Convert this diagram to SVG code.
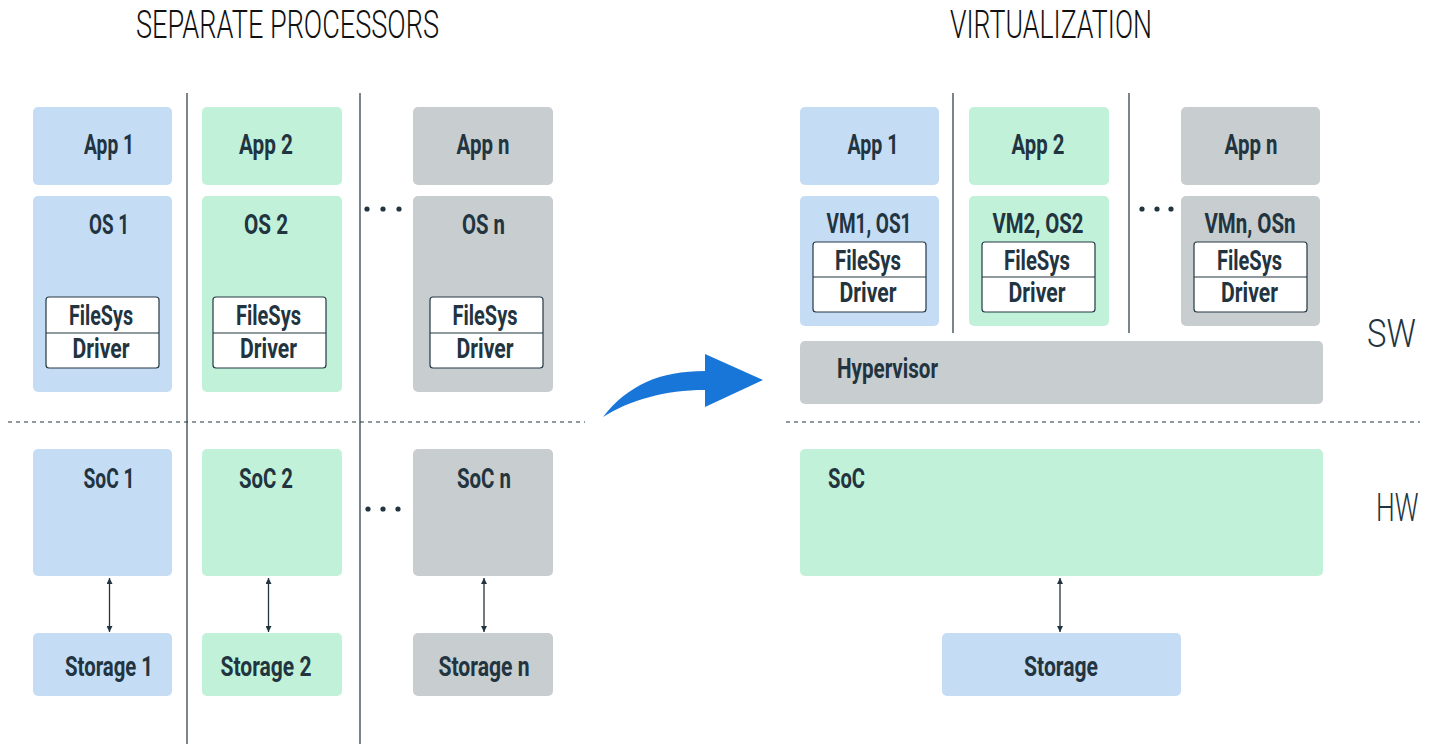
<svg xmlns="http://www.w3.org/2000/svg" width="1432" height="744" viewBox="0 0 1432 744">
<style>
.blue{fill:#c5dcf5}
.green{fill:#c1f1d9}
.gray{fill:#c8cdd0}
.sub{fill:#ffffff;stroke:#243845;stroke-width:1.2}
.lbl{font-family:Roboto,"Liberation Sans",sans-serif;font-weight:700;font-size:27px;fill:#22343f;text-anchor:middle}
.lbll{font-family:Roboto,"Liberation Sans",sans-serif;font-weight:700;font-size:27px;fill:#22343f}
.title{font-family:Roboto,"Liberation Sans",sans-serif;font-weight:300;font-size:39px;fill:#111111}
.side{font-family:Roboto,"Liberation Sans",sans-serif;font-weight:300;font-size:39px;fill:#22343f}
.sep{stroke:#22343f;stroke-width:1.2}
.dash{stroke:#22343f;stroke-width:1;stroke-dasharray:4 4}
.conn{stroke:#22343f;stroke-width:1.3;fill:none;marker-start:url(#ah);marker-end:url(#ah)}
.dot{fill:#22343f}
</style>
<defs>
<marker id="ah" viewBox="0 0 10 10" refX="10" refY="5" markerWidth="6" markerHeight="6" orient="auto-start-reverse" markerUnits="userSpaceOnUse">
<path d="M0,0 L10,5 L0,10 Z" fill="#22343f"/>
</marker>
</defs>

<text class="title" x="136" y="38" textLength="303" lengthAdjust="spacingAndGlyphs">SEPARATE PROCESSORS</text>
<text class="title" x="950" y="38" textLength="202" lengthAdjust="spacingAndGlyphs">VIRTUALIZATION</text>
<text class="side" transform="translate(1367,347) scale(0.84,1)">SW</text>
<text class="side" transform="translate(1376,521) scale(0.68,1)">HW</text>

<g id="separators">
<line class="sep" x1="187" y1="93" x2="187" y2="744"/>
<line class="sep" x1="360" y1="93" x2="360" y2="744"/>
<line class="sep" x1="953" y1="93" x2="953" y2="333"/>
<line class="sep" x1="1129" y1="93" x2="1129" y2="333"/>
<line class="dash" x1="8" y1="422" x2="585" y2="422"/>
<line class="dash" x1="786" y1="422" x2="1420" y2="422"/>
</g>

<g id="dots">
<circle class="dot" cx="367" cy="209" r="2.6"/><circle class="dot" cx="383" cy="209" r="2.6"/><circle class="dot" cx="399" cy="209" r="2.6"/>
<circle class="dot" cx="368" cy="509" r="2.6"/><circle class="dot" cx="383" cy="509" r="2.6"/><circle class="dot" cx="398" cy="509" r="2.6"/>
<circle class="dot" cx="1142" cy="209" r="2.6"/><circle class="dot" cx="1157" cy="209" r="2.6"/><circle class="dot" cx="1171" cy="209" r="2.6"/>
</g>

<!-- Left: separate processors -->
<g id="app1"><rect class="blue" x="33" y="107" width="139" height="78" rx="5"/><text class="lbl" x="109" y="154" textLength="50" lengthAdjust="spacingAndGlyphs">App 1</text></g>
<g id="app2"><rect class="green" x="202" y="107" width="140" height="78" rx="5"/><text class="lbl" x="266" y="154" textLength="54" lengthAdjust="spacingAndGlyphs">App 2</text></g>
<g id="appn"><rect class="gray" x="413" y="107" width="140" height="78" rx="5"/><text class="lbl" x="483" y="154" textLength="53" lengthAdjust="spacingAndGlyphs">App n</text></g>

<g id="os1"><rect class="blue" x="33" y="196" width="139" height="196" rx="5"/><text class="lbl" x="109" y="234" textLength="40" lengthAdjust="spacingAndGlyphs">OS 1</text>
<rect class="sub" x="46" y="297" width="113" height="71" rx="3"/><line class="sep" x1="46" y1="333" x2="159" y2="333"/>
<text class="lbl" x="101" y="325" textLength="64" lengthAdjust="spacingAndGlyphs">FileSys</text><text class="lbl" x="101" y="358" textLength="57" lengthAdjust="spacingAndGlyphs">Driver</text></g>
<g id="os2"><rect class="green" x="202" y="196" width="140" height="196" rx="5"/><text class="lbl" x="266" y="234" textLength="44" lengthAdjust="spacingAndGlyphs">OS 2</text>
<rect class="sub" x="213" y="297" width="113" height="71" rx="3"/><line class="sep" x1="213" y1="333" x2="326" y2="333"/>
<text class="lbl" x="268.5" y="325" textLength="65" lengthAdjust="spacingAndGlyphs">FileSys</text><text class="lbl" x="268.5" y="358" textLength="57" lengthAdjust="spacingAndGlyphs">Driver</text></g>
<g id="osn"><rect class="gray" x="413" y="196" width="140" height="196" rx="5"/><text class="lbl" x="483.5" y="234" textLength="43" lengthAdjust="spacingAndGlyphs">OS n</text>
<rect class="sub" x="430" y="297" width="113" height="71" rx="3"/><line class="sep" x1="430" y1="333" x2="543" y2="333"/>
<text class="lbl" x="485" y="325" textLength="65" lengthAdjust="spacingAndGlyphs">FileSys</text><text class="lbl" x="485" y="358" textLength="57" lengthAdjust="spacingAndGlyphs">Driver</text></g>

<g id="soc1"><rect class="blue" x="33" y="449" width="139" height="127" rx="5"/><text class="lbl" x="109" y="488" textLength="51" lengthAdjust="spacingAndGlyphs">SoC 1</text></g>
<g id="soc2"><rect class="green" x="202" y="449" width="140" height="127" rx="5"/><text class="lbl" x="266" y="488" textLength="54" lengthAdjust="spacingAndGlyphs">SoC 2</text></g>
<g id="socn"><rect class="gray" x="413" y="449" width="140" height="127" rx="5"/><text class="lbl" x="484" y="488" textLength="54" lengthAdjust="spacingAndGlyphs">SoC n</text></g>

<g id="storage1"><rect class="blue" x="33" y="633" width="139" height="63" rx="5"/><text class="lbl" x="109" y="676" textLength="88" lengthAdjust="spacingAndGlyphs">Storage 1</text></g>
<g id="storage2"><rect class="green" x="202" y="633" width="140" height="63" rx="5"/><text class="lbl" x="266" y="676" textLength="91" lengthAdjust="spacingAndGlyphs">Storage 2</text></g>
<g id="storagen"><rect class="gray" x="413" y="633" width="140" height="63" rx="5"/><text class="lbl" x="484" y="676" textLength="91" lengthAdjust="spacingAndGlyphs">Storage n</text></g>

<!-- Right: virtualization -->
<g id="vapp1"><rect class="blue" x="800" y="107" width="139" height="78" rx="5"/><text class="lbl" x="873" y="154" textLength="51" lengthAdjust="spacingAndGlyphs">App 1</text></g>
<g id="vapp2"><rect class="green" x="969" y="107" width="140" height="78" rx="5"/><text class="lbl" x="1038" y="154" textLength="53" lengthAdjust="spacingAndGlyphs">App 2</text></g>
<g id="vappn"><rect class="gray" x="1181" y="107" width="139" height="78" rx="5"/><text class="lbl" x="1251" y="154" textLength="53" lengthAdjust="spacingAndGlyphs">App n</text></g>

<g id="vm1"><rect class="blue" x="800" y="196" width="139" height="130" rx="5"/><text class="lbl" x="869" y="233" textLength="85" lengthAdjust="spacingAndGlyphs">VM1, OS1</text>
<rect class="sub" x="813" y="242" width="113" height="70" rx="3"/><line class="sep" x1="813" y1="277" x2="926" y2="277"/>
<text class="lbl" x="868" y="270" textLength="66" lengthAdjust="spacingAndGlyphs">FileSys</text><text class="lbl" x="868" y="302" textLength="57" lengthAdjust="spacingAndGlyphs">Driver</text></g>
<g id="vm2"><rect class="green" x="969" y="196" width="140" height="130" rx="5"/><text class="lbl" x="1038" y="233" textLength="91" lengthAdjust="spacingAndGlyphs">VM2, OS2</text>
<rect class="sub" x="982" y="242" width="113" height="70" rx="3"/><line class="sep" x1="982" y1="277" x2="1095" y2="277"/>
<text class="lbl" x="1037" y="270" textLength="66" lengthAdjust="spacingAndGlyphs">FileSys</text><text class="lbl" x="1037" y="302" textLength="57" lengthAdjust="spacingAndGlyphs">Driver</text></g>
<g id="vmn"><rect class="gray" x="1181" y="196" width="139" height="130" rx="5"/><text class="lbl" x="1250" y="233" textLength="91" lengthAdjust="spacingAndGlyphs">VMn, OSn</text>
<rect class="sub" x="1194" y="242" width="113" height="70" rx="3"/><line class="sep" x1="1194" y1="277" x2="1307" y2="277"/>
<text class="lbl" x="1249.5" y="270" textLength="65" lengthAdjust="spacingAndGlyphs">FileSys</text><text class="lbl" x="1249.5" y="302" textLength="57" lengthAdjust="spacingAndGlyphs">Driver</text></g>

<g id="hypervisor"><rect class="gray" x="800" y="341" width="523" height="63" rx="5"/><text class="lbll" x="837" y="378" textLength="101" lengthAdjust="spacingAndGlyphs">Hypervisor</text></g>
<g id="soc"><rect class="green" x="800" y="449" width="523" height="127" rx="5"/><text class="lbll" x="828" y="488" textLength="37" lengthAdjust="spacingAndGlyphs">SoC</text></g>
<g id="storage"><rect class="blue" x="942" y="633" width="239" height="63" rx="5"/><text class="lbl" x="1061" y="676" textLength="74" lengthAdjust="spacingAndGlyphs">Storage</text></g>

<g id="connectors">
<line class="conn" x1="109.5" y1="578" x2="109.5" y2="632"/>
<line class="conn" x1="268.5" y1="578" x2="268.5" y2="632"/>
<line class="conn" x1="484" y1="578" x2="484" y2="632"/>
<line class="conn" x1="1060" y1="578" x2="1060" y2="632"/>
<path id="transition" d="M603,417 C628,385 660,371 705,371 L705,354 L763,380 L705,407 L705,390 C665,390 630,400 603,417 Z" fill="#1976d9"/>
</g>
</svg>
